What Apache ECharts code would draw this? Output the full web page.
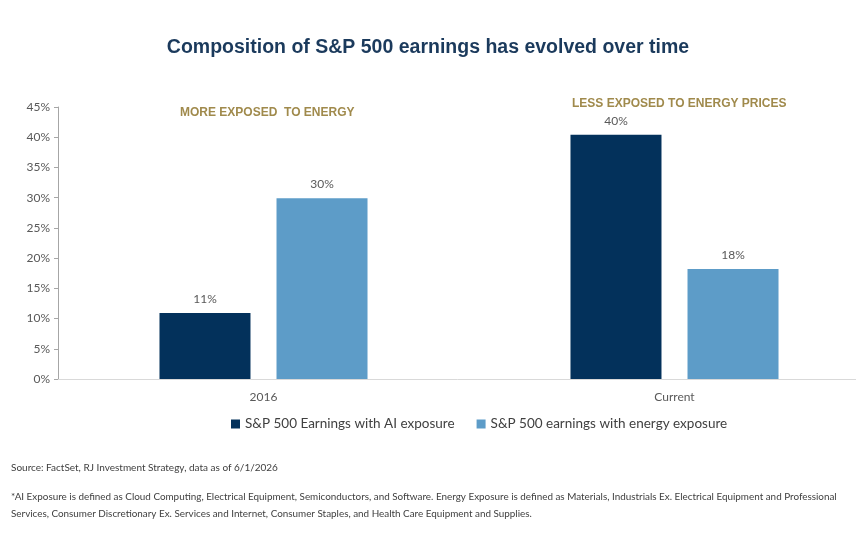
<!DOCTYPE html>
<html>
<head>
<meta charset="utf-8">
<script src="https://cdn.jsdelivr.net/npm/echarts@6/dist/echarts.min.js"></script>
<style>html,body{margin:0;padding:0;background:#fff}#c{width:856px;height:533px}</style>
</head>
<body>
<div id="c"></div>
<script>
const categories = ['2016', 'Current'];
const aiExposure = [10.9, 40.4];
const energyExposure = [29.9, 18.2];
const seriesNames = ['S&P 500 Earnings with AI exposure', 'S&P 500 earnings with energy exposure'];
const yTicks = [0, 5, 10, 15, 20, 25, 30, 35, 40, 45];

const chart = echarts.init(document.getElementById('c'));
const labelStyle = {
  show: true, position: 'top', distance: 8, color: '#595959',
  fontFamily: 'Lato', fontSize: 12,
  formatter: p => Math.round(p.value) + '%'
};
chart.setOption({
  animation: false,
  backgroundColor: '#fff',
  title: [
    { text: 'Composition of S&P 500 earnings has evolved over time', left: 'center', top: 33,
      textStyle: { fontFamily: 'Liberation Sans', fontWeight: 'bold', fontSize: 19.5, color: '#1b3a5c' } },
    { text: 'MORE EXPOSED  TO ENERGY', left: 175, top: 102,
      textStyle: { fontFamily: 'Liberation Sans', fontWeight: 'bold', fontSize: 12, color: '#a08a4c' } },
    { text: 'LESS EXPOSED TO ENERGY PRICES', left: 567, top: 93,
      textStyle: { fontFamily: 'Liberation Sans', fontWeight: 'bold', fontSize: 12, color: '#a08a4c' } },
    { text: 'Source: FactSet, RJ Investment Strategy, data as of 6/1/2026', left: 6, top: 458,
      textStyle: { fontFamily: 'Lato', fontWeight: 'normal', fontSize: 10, color: '#404040' } },
    { text: '*AI Exposure is defined as Cloud Computing, Electrical Equipment, Semiconductors, and Software. Energy Exposure is defined as Materials, Industrials Ex. Electrical Equipment and Professional\nServices, Consumer Discretionary Ex. Services and Internet, Consumer Staples, and Health Care Equipment and Supplies.',
      left: 6, top: 483,
      textStyle: { fontFamily: 'Lato', fontWeight: 'normal', fontSize: 9.9, lineHeight: 17, color: '#404040' } }
  ],
  legend: {
    data: seriesNames, bottom: 97, left: 226, itemWidth: 9, itemHeight: 9, itemGap: 22,
    icon: 'rect',
    textStyle: { fontFamily: 'Lato', fontSize: 13.5, color: '#404040' }
  },
  grid: { left: 58, width: 822, top: 107, height: 272, containLabel: false, outerBoundsMode: 'none' },
  xAxis: {
    type: 'category', data: categories,
    axisLine: { lineStyle: { color: '#d9d9d9', width: 1 } },
    axisTick: { show: false },
    axisLabel: { color: '#595959', fontFamily: 'Lato', fontSize: 12, margin: 12 }
  },
  yAxis: {
    type: 'value', min: 0, max: 45, interval: 5,
    axisLine: { show: true, lineStyle: { color: '#a6a6a6' } },
    axisTick: { show: true, length: 4, lineStyle: { color: '#a6a6a6' } },
    splitLine: { show: false },
    axisLabel: { color: '#595959', fontFamily: 'Lato', fontSize: 12, margin: 8,
      formatter: v => yTicks.includes(v) ? v + '%' : '' }
  },
  series: [
    { name: seriesNames[0], type: 'bar', data: aiExposure, barWidth: 91, barGap: '28.6%',
      itemStyle: { color: '#03315b' }, label: labelStyle },
    { name: seriesNames[1], type: 'bar', data: energyExposure, barWidth: 91,
      itemStyle: { color: '#5d9cc8' }, label: labelStyle }
  ]
});
</script>
</body>
</html>
